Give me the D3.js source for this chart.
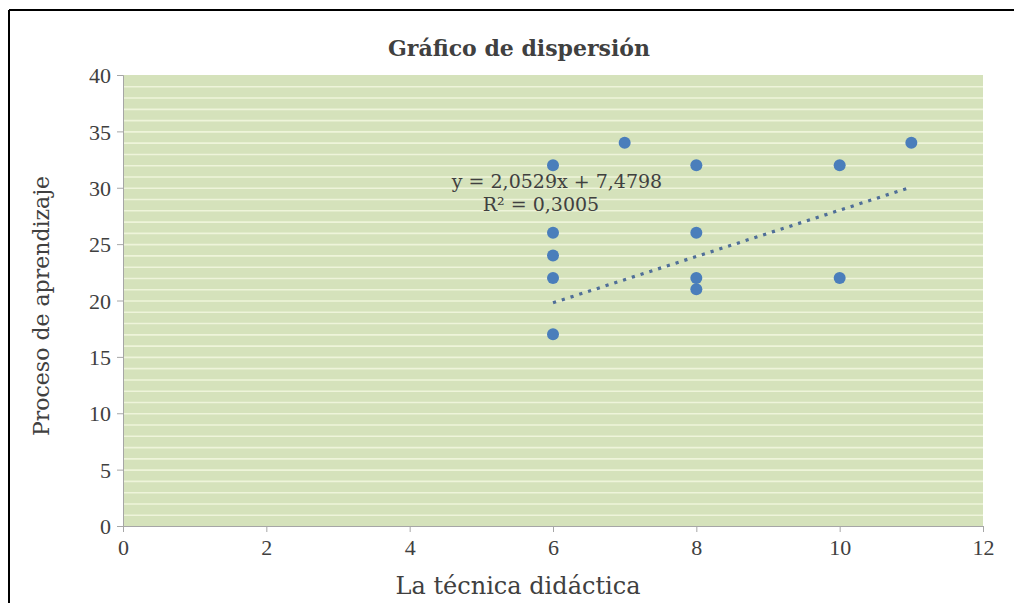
<!DOCTYPE html>
<html>
<head>
<meta charset="utf-8">
<script src="https://cdn.jsdelivr.net/npm/d3@7"></script>
<style>
  body { margin: 0; background: #ffffff; }
  text { font-family: "DejaVu Serif", "Liberation Serif", serif; fill: #404040; }
</style>
</head>
<body>
<svg id="chart"></svg>
<script>
// valeurs
var tecnica = [6, 6, 6, 6, 6, 7, 8, 8, 8, 8, 10, 10, 11];
var proceso = [32, 26, 24, 22, 17, 34, 32, 26, 22, 21, 32, 22, 34];

// droite de tendance (affichée sur le graphique)
var pente = 2.0529;
var origine = 7.4798;
var tendanceX = [6, 11];

var xTicks = [0, 2, 4, 6, 8, 10, 12];
var yTicks = [0, 5, 10, 15, 20, 25, 30, 35, 40];

var W = 1014, H = 603;
var margin = {left: 123, right: 31, top: 75, bottom: 77};

var svg = d3.select("#chart").attr("width", W).attr("height", H);

// cadre noir (haut et gauche)
svg.append("line").attr("x1", 9).attr("y1", 10).attr("x2", W).attr("y2", 10)
  .attr("stroke", "#000").attr("stroke-width", 2);
svg.append("line").attr("x1", 9).attr("y1", 10).attr("x2", 9).attr("y2", H)
  .attr("stroke", "#000").attr("stroke-width", 2);

var x = d3.scaleLinear().domain([0, 12]).range([margin.left, W - margin.right]);
var y = d3.scaleLinear().domain([0, 40]).range([H - margin.bottom, margin.top]);

// fond de la zone de tracé
svg.append("rect")
  .attr("x", x(0)).attr("y", y(40))
  .attr("width", x(12) - x(0)).attr("height", y(0) - y(40))
  .attr("fill", "#d5e2bb");

// quadrillage secondaire, tous les 1
svg.append("g").selectAll("line")
  .data(d3.range(1, 40))
  .enter().append("line")
  .attr("x1", x(0)).attr("x2", x(12))
  .attr("y1", function(d){ return y(d) + 0.5; })
  .attr("y2", function(d){ return y(d) + 0.5; })
  .attr("stroke", "#eef4da").attr("stroke-width", 1.6);

// axes
var gx = svg.append("g").attr("transform", "translate(0," + y(0) + ")")
  .call(d3.axisBottom(x).tickValues(xTicks).tickSize(6).tickPadding(7));
var gy = svg.append("g").attr("transform", "translate(" + x(0) + ",0)")
  .call(d3.axisLeft(y).tickValues(yTicks).tickSize(6).tickPadding(6));

[gx, gy].forEach(function(g){
  g.select(".domain").attr("stroke", "#a6a6a6");
  g.selectAll(".tick line").attr("stroke", "#a6a6a6");
  g.selectAll(".tick text")
    .attr("fill", "#404040")
    .style("font-family", "'Liberation Serif', serif")
    .style("font-size", "22px");
});
gy.selectAll(".tick text").attr("dy", "0.35em");

// droite de tendance pointillée
svg.append("line")
  .attr("x1", x(tendanceX[0])).attr("y1", y(pente * tendanceX[0] + origine))
  .attr("x2", x(tendanceX[1])).attr("y2", y(pente * tendanceX[1] + origine))
  .attr("stroke", "#4f6e98").attr("stroke-width", 3.2)
  .attr("stroke-dasharray", "3.2,6");

// points
svg.append("g").selectAll("circle")
  .data(tecnica)
  .enter().append("circle")
  .attr("cx", function(d){ return x(d); })
  .attr("cy", function(d, i){ return y(proceso[i]); })
  .attr("r", 6)
  .attr("fill", "#4a7ebb");

// équation
svg.append("text").attr("x", 557).attr("y", 188)
  .attr("text-anchor", "middle").style("font-size", "19px")
  .text("y = 2,0529x  + 7,4798");
svg.append("text").attr("x", 541).attr("y", 211)
  .attr("text-anchor", "middle").style("font-size", "19px")
  .text("R² = 0,3005");

// titres
svg.append("text").attr("x", 519).attr("y", 56)
  .attr("text-anchor", "middle").style("font-size", "22px").style("font-weight", "bold")
  .text("Gráfico de dispersión");
svg.append("text").attr("x", 518).attr("y", 594)
  .attr("text-anchor", "middle").style("font-size", "24px")
  .text("La técnica didáctica");
svg.append("text")
  .attr("transform", "translate(49,306) rotate(-90)")
  .attr("text-anchor", "middle").style("font-size", "22px")
  .text("Proceso de aprendizaje");
</script>
</body>
</html>
